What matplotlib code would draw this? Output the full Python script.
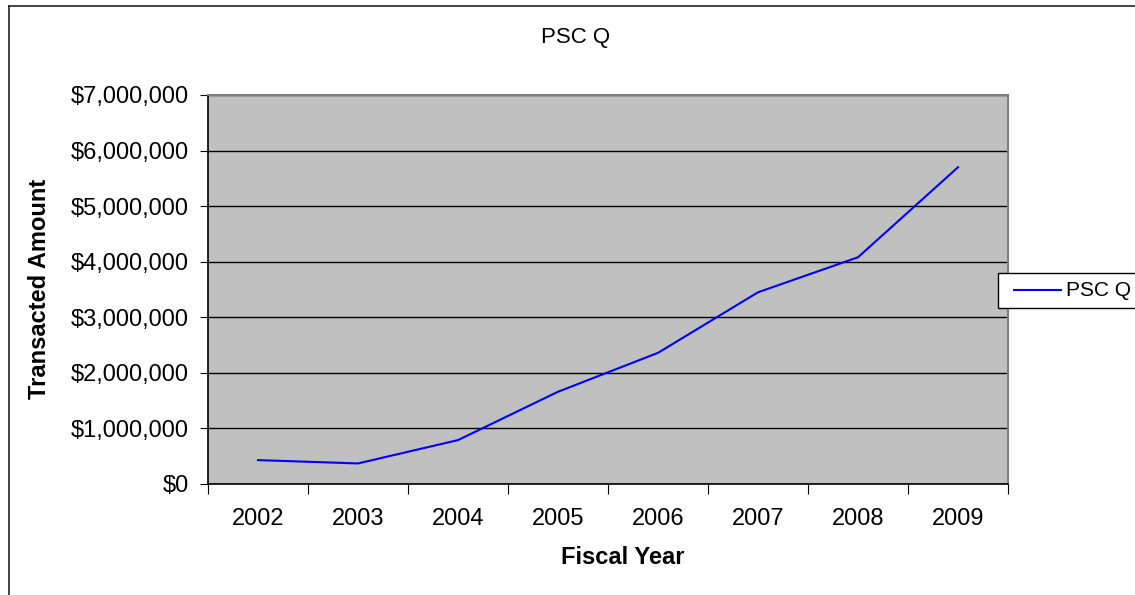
import matplotlib
matplotlib.use("Agg")
import matplotlib.pyplot as plt
from matplotlib.lines import Line2D
from matplotlib.patches import Rectangle
from matplotlib.ticker import FuncFormatter, MultipleLocator

plt.rcParams['font.family'] = ['Liberation Sans', 'DejaVu Sans']

# Data
years = ['2002', '2003', '2004', '2005', '2006', '2007', '2008', '2009']
amounts = [430000, 370000, 790000, 1660000, 2360000, 3450000, 4080000, 5700000]
series_name = 'PSC Q'

W, H = 1135, 595
fig = plt.figure(figsize=(W / 100, H / 100), dpi=100)

# plot area in pixels: left 208, right 1008, top 95, bottom 484
ax = fig.add_axes([208 / W, (H - 484) / H, 800 / W, 389 / H])
ax.set_facecolor('#C0C0C0')

x = list(range(len(years)))
line, = ax.plot(x, amounts, color='#0000FF', lw=1.5)

ax.set_xlim(-0.5, len(years) - 0.5)
ax.set_ylim(0, 7000000)
ax.yaxis.set_major_locator(MultipleLocator(1000000))
ax.yaxis.set_major_formatter(FuncFormatter(lambda v, p: '${:,.0f}'.format(v)))
ax.grid(axis='y', color='black', lw=1)
ax.set_axisbelow(True)

# category ticks between labels
ax.set_xticks([i - 0.5 for i in range(len(years) + 1)])
ax.set_xticklabels([])
ax.set_xticks(x, minor=True)
ax.set_xticklabels(years, minor=True)
ax.tick_params(axis='x', which='major', length=7, direction='out', color='black')
ax.tick_params(axis='x', which='minor', length=0, pad=17, labelsize=17)
ax.tick_params(axis='y', length=6, direction='out', pad=8, labelsize=17)

for s in ['left', 'bottom']:
    ax.spines[s].set_color('black')
    ax.spines[s].set_linewidth(1.2)
for s in ['top', 'right']:
    ax.spines[s].set_color('#808080')
    ax.spines[s].set_linewidth(1.5)

fig.text(576 / W, 1 - 38 / H, 'PSC Q', ha='center', va='center', fontsize=16)
fig.text(623 / W, 1 - 558 / H, 'Fiscal Year', ha='center', va='center',
         fontsize=17, fontweight='bold')
fig.text(40 / W, 1 - 289 / H, 'Transacted Amount', ha='center', va='center',
         fontsize=17, fontweight='bold', rotation=90)

# legend box, drawn by hand so the left padding matches
fig.add_artist(Rectangle((998 / W, 1 - 308 / H), 200 / W, 35 / H,
                         transform=fig.transFigure, facecolor='white',
                         edgecolor='black', lw=1))
fig.add_artist(Line2D([1014 / W, 1061 / W], [1 - 290 / H, 1 - 290 / H],
                      color=line.get_color(), lw=1.5))
fig.text(1066 / W, 1 - 290 / H, series_name, ha='left', va='center', fontsize=15)

# chart area border (runs off the right and bottom of the picture)
fig.add_artist(Line2D([9 / W, 9 / W], [0, 1 - 6 / H], color='#222222', lw=1.2))
fig.add_artist(Line2D([9 / W, 1], [1 - 6 / H, 1 - 6 / H], color='#222222', lw=1.2))

fig.savefig('out.png', dpi=100)
